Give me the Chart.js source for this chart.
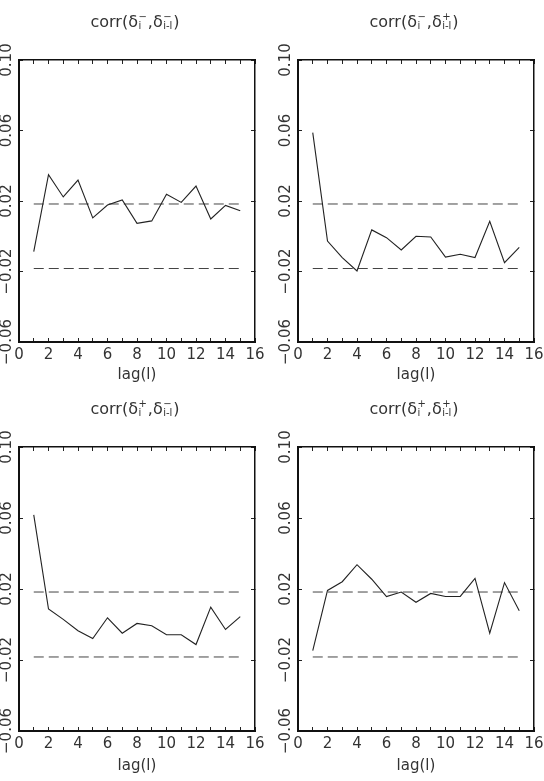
<!DOCTYPE html>
<html>
<head>
<meta charset="utf-8">
<script src="https://cdn.jsdelivr.net/npm/chart.js@4.4.0/dist/chart.umd.min.js"></script>
<style>
  body { margin: 0; background: #fff; }
  #wrap { position: relative; width: 544px; height: 781px; }
  canvas { position: absolute; }
</style>
</head>
<body>
<div id="wrap">
  <canvas id="c1" width="272" height="390" style="left:0;top:0"></canvas>
  <canvas id="c2" width="272" height="390" style="left:272px;top:0"></canvas>
  <canvas id="c3" width="272" height="391" style="left:0;top:390px"></canvas>
  <canvas id="c4" width="272" height="391" style="left:272px;top:390px"></canvas>
</div>
<script>
// lagy a korelace
const lags = [1, 2, 3, 4, 5, 6, 7, 8, 9, 10, 11, 12, 13, 14, 15];
const corrMM = [-0.0087, 0.0349, 0.0223, 0.0319, 0.0104, 0.0177, 0.0206, 0.0073, 0.0087, 0.0238, 0.0192, 0.0285, 0.0098, 0.0175, 0.0145];
const corrMP = [0.0588, -0.0027, -0.0121, -0.0197, 0.0036, -0.0008, -0.0078, 0.0000, -0.0004, -0.0118, -0.0102, -0.0121, 0.0085, -0.0150, -0.0063];
const corrPM = [0.0618, 0.0087, 0.0029, -0.0035, -0.0079, 0.0038, -0.0049, 0.0006, -0.0007, -0.0058, -0.0058, -0.0113, 0.0098, -0.0028, 0.0044];
const corrPP = [-0.0147, 0.0192, 0.0241, 0.0337, 0.0255, 0.0157, 0.0183, 0.0125, 0.0175, 0.0158, 0.0158, 0.0260, -0.0049, 0.0236, 0.0078];

// hranice pásma (čárkované)
const bandLags = [1, 15];
const upperBand = [0.0183, 0.0183];
const lowerBand = [-0.0183, -0.0183];

// osy
const xMin = 0, xMax = 16, xStep = 1;
const yMin = -0.06, yMax = 0.10, yStep = 0.04;

const FONT = 'DejaVu Sans';
const TEXT = '#333';

const toPoints = (xs, ys) => xs.map((x, i) => ({ x, y: ys[i] }));
const fmtY = v => (v < 0 ? '\u2212' : '') + Math.abs(v).toFixed(2);

// titulek s horním/dolním indexem nad sebou
function stackTitle(supA, supB) {
    return {
        id: 'stackTitle',
        afterDraw(chart) {
            const ctx = chart.ctx;
            const area = chart.chartArea;
            const big = '16px "' + FONT + '"';
            const small = '10px "' + FONT + '"';
            const parts = [
                { text: 'corr(\u03b4' }, { sup: supA, sub: 'i' },
                { text: ',\u03b4' }, { sup: supB, sub: 'i-l' },
                { text: ')' }
            ];
            ctx.save();
            let total = 0;
            parts.forEach(p => {
                if (p.text) { ctx.font = big; p.w = ctx.measureText(p.text).width; }
                else { ctx.font = small; p.w = Math.max(ctx.measureText(p.sup).width, ctx.measureText(p.sub).width) + 1.5; }
                total += p.w;
            });
            let x = (area.left + area.right) / 2 - total / 2 - 2;
            const base = area.top - 33;
            ctx.fillStyle = TEXT;
            ctx.textAlign = 'left';
            ctx.textBaseline = 'alphabetic';
            parts.forEach(p => {
                if (p.text) { ctx.font = big; ctx.fillText(p.text, x, base); }
                else {
                    ctx.font = small;
                    ctx.fillText(p.sup, x + 0.5, base - 7);
                    ctx.fillText(p.sub, x + 0.5, base + 2);
                }
                x += p.w;
            });
            ctx.restore();
        }
    };
}

function makePanel(id, values, supA, supB, box) {
    const canvas = document.getElementById(id);
    const W = canvas.width, H = canvas.height;
    const inward = { display: true, drawOnChartArea: false, drawTicks: true, tickLength: -4, color: '#222' };

    new Chart(canvas, {
        type: 'line',
        data: {
            datasets: [
                { data: toPoints(lags, values), borderColor: '#222', borderWidth: 1.1, pointRadius: 0, tension: 0 },
                { data: toPoints(bandLags, upperBand), borderColor: '#444', borderWidth: 1, borderDash: [10, 5], pointRadius: 0 },
                { data: toPoints(bandLags, lowerBand), borderColor: '#444', borderWidth: 1, borderDash: [10, 5], pointRadius: 0 }
            ]
        },
        options: {
            responsive: false,
            animation: false,
            devicePixelRatio: 1,
            layout: { padding: { left: 0, top: box.top, right: W - box.right, bottom: 0 } },
            plugins: { legend: { display: false }, tooltip: { enabled: false }, title: { display: false } },
            scales: {
                x: {
                    type: 'linear', position: 'bottom', min: xMin, max: xMax,
                    afterFit: s => { s.height = H - box.bottom; s.paddingLeft = 0; s.paddingRight = 0; },
                    ticks: {
                        stepSize: xStep, autoSkip: false, maxRotation: 0, padding: 8, color: TEXT,
                        font: { family: FONT, size: 15 },
                        callback: v => (v % 2 === 0 ? String(v) : '')
                    },
                    grid: inward,
                    border: { display: true, color: '#111', width: 2 },
                    title: { display: true, text: 'lag(l)', color: TEXT, font: { family: FONT, size: 15 }, padding: { top: 0, bottom: 6 } }
                },
                y: {
                    type: 'linear', position: 'left', min: yMin, max: yMax,
                    afterFit: s => { s.width = box.left; s.paddingTop = 0; s.paddingBottom = 0; },
                    ticks: {
                        stepSize: yStep, minRotation: 90, maxRotation: 90, crossAlign: 'center', padding: -7,
                        color: TEXT, font: { family: FONT, size: 15 }, callback: v => fmtY(v)
                    },
                    grid: inward,
                    border: { display: true, color: '#111', width: 2 }
                },
                x2: {
                    type: 'linear', position: 'top', min: xMin, max: xMax,
                    afterFit: s => { s.height = 0; s.paddingLeft = 0; s.paddingRight = 0; },
                    ticks: { display: false, stepSize: xStep, autoSkip: false },
                    grid: inward,
                    border: { display: true, color: '#111', width: 1.5 }
                },
                y2: {
                    type: 'linear', position: 'right', min: yMin, max: yMax,
                    afterFit: s => { s.width = 0; s.paddingTop = 0; s.paddingBottom = 0; },
                    ticks: { display: false, stepSize: yStep },
                    grid: inward,
                    border: { display: true, color: '#111', width: 1.5 }
                }
            }
        },
        plugins: [stackTitle(supA, supB)]
    });
}

makePanel('c1', corrMM, '\u2212', '\u2212', { left: 19, right: 255, top: 60, bottom: 342 });
makePanel('c2', corrMP, '\u2212', '+', { left: 26, right: 262, top: 60, bottom: 342 });
makePanel('c3', corrPM, '+', '\u2212', { left: 19, right: 255, top: 57, bottom: 341 });
makePanel('c4', corrPP, '+', '+', { left: 26, right: 262, top: 57, bottom: 341 });
</script>
</body>
</html>
